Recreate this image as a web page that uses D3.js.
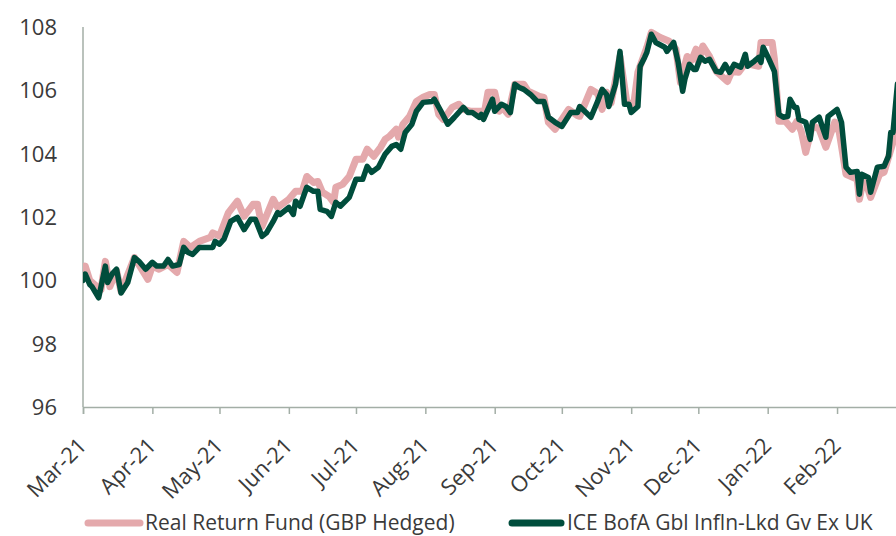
<!DOCTYPE html>
<html>
<head>
<meta charset="utf-8">
<script src="https://cdn.jsdelivr.net/npm/d3@7"></script>
<style>
  html, body { margin: 0; padding: 0; background: #fff; }
  svg { display: block; font-family: "Open Sans", sans-serif; }
</style>
</head>
<body>
<svg id="chart" width="896" height="536"></svg>
<script>
// ---- Data ----
const fundName = "Real Return Fund (GBP Hedged)";
const indexName = "ICE BofA Gbl Infln-Lkd Gv Ex UK";

const yTicks = [96, 98, 100, 102, 104, 106, 108];

const fundDates = [
"2021-03-01","2021-03-02","2021-03-04","2021-03-09","2021-03-11","2021-03-13","2021-03-16","2021-03-18","2021-03-24","2021-03-30",
"2021-04-01","2021-04-04","2021-04-08","2021-04-12","2021-04-15","2021-04-18","2021-04-22","2021-04-27","2021-04-28",
"2021-05-01","2021-05-05","2021-05-09","2021-05-12","2021-05-16","2021-05-18","2021-05-20","2021-05-25","2021-05-27",
"2021-06-01","2021-06-04","2021-06-07","2021-06-09","2021-06-12","2021-06-14","2021-06-16","2021-06-19","2021-06-21","2021-06-22","2021-06-25","2021-06-28",
"2021-07-01","2021-07-04","2021-07-06","2021-07-09","2021-07-12","2021-07-14","2021-07-16","2021-07-19","2021-07-20","2021-07-22","2021-07-25","2021-07-28","2021-07-31",
"2021-08-03","2021-08-05","2021-08-07","2021-08-09","2021-08-13","2021-08-16","2021-08-18","2021-08-21","2021-08-26","2021-08-27","2021-08-29",
"2021-09-01","2021-09-03","2021-09-04","2021-09-07","2021-09-10","2021-09-14","2021-09-16","2021-09-21","2021-09-23","2021-09-25","2021-09-28",
"2021-10-01","2021-10-04","2021-10-08","2021-10-09","2021-10-14","2021-10-17","2021-10-19","2021-10-21","2021-10-23","2021-10-27","2021-10-30",
"2021-11-02","2021-11-04","2021-11-08","2021-11-10","2021-11-14","2021-11-18","2021-11-21","2021-11-23","2021-11-26","2021-11-28","2021-11-30",
"2021-12-01","2021-12-03","2021-12-06","2021-12-09","2021-12-14","2021-12-16","2021-12-19","2021-12-22","2021-12-28","2021-12-29",
"2022-01-03","2022-01-04","2022-01-06","2022-01-09","2022-01-12","2022-01-14","2022-01-16","2022-01-18","2022-01-21","2022-01-24","2022-01-27","2022-01-31",
"2022-02-02","2022-02-05","2022-02-10","2022-02-11","2022-02-13","2022-02-16","2022-02-20","2022-02-22","2022-02-26","2022-02-28"
];
const fundValues = [
100.3,100.45,100.0,99.7,100.6,99.8,100.3,99.65,100.72,100.03,
100.45,100.35,100.5,100.25,101.23,101.04,101.23,101.36,101.5,
101.4,102.14,102.5,102.02,102.4,102.4,101.7,102.56,102.3,
102.56,102.81,102.81,103.28,103.09,103.12,102.78,102.65,102.46,102.94,103.03,103.28,
103.82,103.82,104.14,103.92,104.2,104.45,104.55,104.77,104.52,104.93,105.18,105.65,105.78,
105.87,105.87,105.24,105.08,105.46,105.56,105.4,105.34,105.34,105.15,105.94,
105.94,105.34,105.5,105.24,106.19,106.19,105.97,105.81,105.78,104.99,104.77,
105.08,105.4,105.2,105.18,106.03,105.9,105.4,105.94,105.6,107.07,105.65,
105.49,106.57,107.36,107.83,107.67,107.55,107.3,106.25,107.07,106.95,107.3,
106.88,107.4,107.07,106.6,106.28,106.6,106.57,106.85,106.76,107.51,
107.51,106.98,105.02,105.02,104.77,105.02,104.71,104.04,104.9,104.77,104.2,105.0,
104.67,103.35,103.19,102.56,103.28,102.62,103.35,103.41,104.36,105.2
];

const indexDates = [
"2021-03-01","2021-03-02","2021-03-04","2021-03-05","2021-03-08","2021-03-11","2021-03-12","2021-03-14","2021-03-16","2021-03-18","2021-03-21","2021-03-24","2021-03-26","2021-03-29",
"2021-04-01","2021-04-03","2021-04-06","2021-04-08","2021-04-10","2021-04-13","2021-04-15","2021-04-17","2021-04-19","2021-04-22","2021-04-28","2021-04-29",
"2021-05-01","2021-05-03","2021-05-06","2021-05-09","2021-05-12","2021-05-15","2021-05-17","2021-05-20","2021-05-22","2021-05-25","2021-05-27","2021-05-28",
"2021-06-01","2021-06-03","2021-06-04","2021-06-06","2021-06-09","2021-06-12","2021-06-14","2021-06-15","2021-06-18","2021-06-20","2021-06-22","2021-06-24","2021-06-28",
"2021-07-01","2021-07-04","2021-07-06","2021-07-08","2021-07-11","2021-07-14","2021-07-17","2021-07-19","2021-07-21","2021-07-23","2021-07-26","2021-07-28","2021-07-31",
"2021-08-04","2021-08-05","2021-08-08","2021-08-11","2021-08-14","2021-08-18","2021-08-20","2021-08-22","2021-08-25","2021-08-26","2021-08-27","2021-08-31",
"2021-09-01","2021-09-04","2021-09-06","2021-09-08","2021-09-10","2021-09-12","2021-09-14","2021-09-17","2021-09-20","2021-09-23","2021-09-25","2021-09-28",
"2021-10-01","2021-10-03","2021-10-05","2021-10-08","2021-10-09","2021-10-14","2021-10-17","2021-10-19","2021-10-21","2021-10-22","2021-10-25","2021-10-27","2021-10-29","2021-10-31",
"2021-11-01","2021-11-04","2021-11-05","2021-11-07","2021-11-08","2021-11-10","2021-11-12","2021-11-16","2021-11-17","2021-11-20","2021-11-22","2021-11-24","2021-11-25","2021-11-27","2021-11-29","2021-11-30",
"2021-12-02","2021-12-04","2021-12-06","2021-12-09","2021-12-11","2021-12-13","2021-12-15","2021-12-17","2021-12-20","2021-12-22","2021-12-23","2021-12-26","2021-12-28","2021-12-29","2021-12-30",
"2022-01-01","2022-01-04","2022-01-06","2022-01-08","2022-01-10","2022-01-11","2022-01-13","2022-01-14","2022-01-15","2022-01-18","2022-01-20","2022-01-21","2022-01-24","2022-01-27","2022-01-28",
"2022-02-01","2022-02-03","2022-02-05","2022-02-07","2022-02-10","2022-02-11","2022-02-12","2022-02-15","2022-02-16","2022-02-19","2022-02-22","2022-02-24","2022-02-25","2022-02-26","2022-02-28"
];
const indexValues = [
100.0,100.2,99.87,99.8,99.45,100.45,99.93,100.2,100.35,99.6,99.93,100.72,100.6,100.35,
100.57,100.45,100.45,100.66,100.45,100.5,101.04,100.88,100.82,101.04,101.04,101.23,
101.14,101.3,101.86,101.99,101.6,101.93,101.93,101.39,101.5,101.86,102.14,102.08,
102.3,102.08,102.5,102.34,102.94,102.81,102.81,102.24,102.18,102.02,102.46,102.34,102.62,
103.19,103.19,103.6,103.41,103.57,103.98,104.23,104.29,104.14,104.67,104.93,105.34,105.62,
105.65,105.72,105.34,104.93,105.15,105.46,105.3,105.3,105.15,105.24,105.08,105.72,
105.34,105.56,105.49,105.3,106.19,106.09,106.03,105.87,105.65,105.65,105.15,104.99,
104.86,105.08,105.3,105.3,105.49,105.15,105.65,106.03,105.87,105.49,106.19,107.23,105.56,105.56,
105.3,105.49,106.76,107.04,107.2,107.77,107.51,107.36,107.23,107.51,106.88,105.97,106.35,106.82,106.66,106.66,
107.04,106.92,106.98,106.6,106.57,106.82,106.57,106.82,106.73,107.14,106.76,106.92,107.04,106.88,107.36,
107.07,106.6,105.24,105.15,105.18,105.72,105.46,105.46,105.08,104.99,104.45,104.99,105.15,104.52,105.18,
105.4,104.99,103.57,103.41,103.44,102.72,103.35,103.25,102.78,103.57,103.6,103.92,104.67,104.67,106.2
];

// ---- Chart ----
const parse = d3.timeParse("%Y-%m-%d");
const fund = fundDates.map((d, i) => ({ date: parse(d), value: fundValues[i] }));
const index = indexDates.map((d, i) => ({ date: parse(d), value: indexValues[i] }));

const svg = d3.select("#chart");
const textColor = "#3a3a3a";
const axisColor = "#a3aea6";
const pink = "#e4a9ac";
const green = "#004d3c";

const x = d3.scaleTime()
  .domain([parse("2021-03-01"), parse("2022-03-01")])
  .range([83, 899.7]);
const y = d3.scaleLinear().domain([96, 108]).range([407, 27]);

svg.append("defs").append("clipPath").attr("id", "plotclip")
  .append("rect").attr("x", 83).attr("y", 0).attr("width", 896 - 83).attr("height", 420);

// y labels
svg.append("g").selectAll("text").data(yTicks).join("text")
  .attr("x", 57).attr("y", d => y(d))
  .attr("dy", "0.36em")
  .attr("text-anchor", "end")
  .attr("font-size", 22)
  .attr("fill", textColor)
  .text(d => d);

// left axis line
svg.append("line")
  .attr("x1", 83).attr("x2", 83)
  .attr("y1", y(108)).attr("y2", y(96))
  .attr("stroke", axisColor).attr("stroke-width", 1.5);

// x axis
const monthTicks = d3.timeMonth.range(parse("2021-03-01"), parse("2022-03-01"));
const xAxis = d3.axisBottom(x).tickValues(monthTicks).tickSize(7).tickFormat("");
const gx = svg.append("g").attr("transform", `translate(0,${y(96)})`).call(xAxis);
gx.select(".domain").attr("stroke", axisColor).attr("stroke-width", 1.5);
gx.selectAll(".tick line").attr("stroke", axisColor).attr("stroke-width", 1.5);

const fmt = d3.timeFormat("%b-%y");
svg.append("g").selectAll("text").data(monthTicks).join("text")
  .attr("transform", d => `translate(${x(d) + 5},447) rotate(-45)`)
  .attr("text-anchor", "end")
  .attr("font-size", 22)
  .attr("fill", textColor)
  .text(d => fmt(d));

// lines
const line = d3.line().x(d => x(d.date)).y(d => y(d.value)).curve(d3.curveLinear);
const plot = svg.append("g").attr("clip-path", "url(#plotclip)");
plot.append("path").datum(fund)
  .attr("d", line)
  .attr("fill", "none").attr("stroke", pink)
  .attr("stroke-width", 7).attr("stroke-linejoin", "round").attr("stroke-linecap", "round");
plot.append("path").datum(index)
  .attr("d", line)
  .attr("fill", "none").attr("stroke", green)
  .attr("stroke-width", 5.5).attr("stroke-linejoin", "round").attr("stroke-linecap", "round");

// legend
const legend = [
  { name: fundName, color: pink, x1: 88, x2: 140, tx: 145 },
  { name: indexName, color: green, x1: 512, x2: 561, tx: 567 }
];
const lg = svg.append("g");
legend.forEach(l => {
  lg.append("line").attr("x1", l.x1).attr("x2", l.x2).attr("y1", 523).attr("y2", 523)
    .attr("stroke", l.color).attr("stroke-width", 7).attr("stroke-linecap", "round");
  lg.append("text").attr("x", l.tx).attr("y", 530)
    .attr("font-size", 21).attr("fill", textColor).text(l.name);
});
</script>
</body>
</html>
